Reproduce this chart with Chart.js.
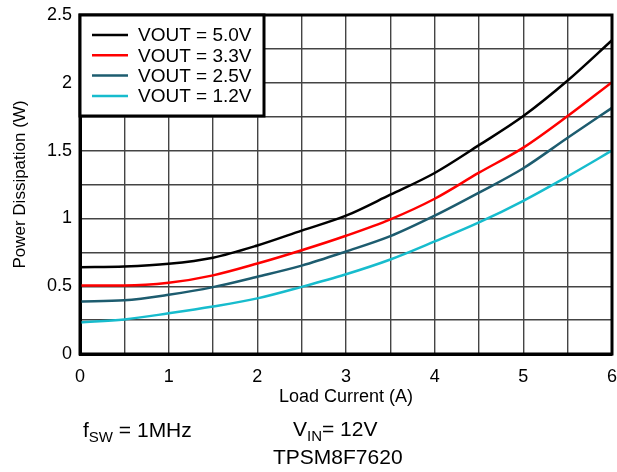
<!DOCTYPE html>
<html>
<head>
<meta charset="utf-8">
<script src="https://cdn.jsdelivr.net/npm/chart.js@4/dist/chart.umd.min.js"></script>
<style>
  html, body { margin: 0; padding: 0; background: #fff; }
  #wrap { position: relative; width: 617px; height: 472px; }
  #c { position: absolute; left: 0; top: 0; }
  .note {
    position: absolute;
    font-family: "Liberation Sans", Arial, sans-serif;
    font-size: 21px;
    line-height: 1;
    color: #000;
    white-space: nowrap;
  }
  .note sub { font-size: 15px; vertical-align: -5px; line-height: 0; }
</style>
</head>
<body>
<div id="wrap">
  <canvas id="c" width="617" height="472"></canvas>
  <div class="note" style="left:83px;top:419px">f<sub>SW</sub> = 1MHz</div>
  <div class="note" style="left:293px;top:418px">V<sub>IN</sub>= 12V</div>
  <div class="note" style="left:273px;top:446px">TPSM8F7620</div>
</div>
<script>
// Load current (A)
const loadCurrent = [0, 0.5, 1, 1.5, 2, 2.5, 3, 3.5, 4, 4.5, 5, 5.5, 6];

// Power dissipation (W) for each output voltage
const vout50 = [0.64, 0.645, 0.665, 0.71, 0.80, 0.91, 1.02, 1.175, 1.335, 1.54, 1.755, 2.017, 2.314];
const vout33 = [0.505, 0.505, 0.525, 0.58, 0.667, 0.765, 0.872, 0.993, 1.145, 1.337, 1.522, 1.755, 2.005];
const vout25 = [0.388, 0.396, 0.437, 0.493, 0.57, 0.652, 0.756, 0.869, 1.02, 1.19, 1.37, 1.595, 1.815];
const vout12 = [0.232, 0.255, 0.30, 0.35, 0.41, 0.495, 0.588, 0.697, 0.83, 0.97, 1.13, 1.31, 1.5];

const seriesLabels = ['VOUT = 5.0V', 'VOUT = 3.3V', 'VOUT = 2.5V', 'VOUT = 1.2V'];
const seriesValues = [vout50, vout33, vout25, vout12];
const seriesColors = ['#000000', '#ff0000', '#1d5c6f', '#17bccd'];

// Axis tick labels
const xTickLabels = ['0', '1', '2', '3', '4', '5', '6'];
const yTickLabels = ['0', '0.5', '1', '1.5', '2', '2.5'];

const FONT = '"Liberation Sans", Arial, sans-serif';

// Frame around the plot area plus the boxed legend in its top-left corner
const frameAndLegend = {
  id: 'frameAndLegend',
  afterDraw(chart) {
    const { ctx, chartArea: a } = chart;
    ctx.save();
    ctx.lineWidth = 3;
    ctx.strokeStyle = '#000';
    ctx.strokeRect(a.left, a.top, a.right - a.left, a.bottom - a.top);

    const x0 = a.left, y0 = a.top, w = 184, h = 101;
    ctx.fillStyle = '#fff';
    ctx.fillRect(x0, y0, w, h);
    ctx.strokeRect(x0, y0, w, h);

    ctx.font = '19px ' + FONT;
    ctx.textBaseline = 'middle';
    ctx.textAlign = 'left';
    chart.data.datasets.forEach((ds, i) => {
      const y = y0 + 20 + i * 20.3;
      ctx.strokeStyle = ds.borderColor;
      ctx.lineWidth = 2.5;
      ctx.beginPath();
      ctx.moveTo(x0 + 12, y);
      ctx.lineTo(x0 + 48, y);
      ctx.stroke();
      ctx.fillStyle = '#000';
      ctx.fillText(ds.label, x0 + 58, y + 1);
    });
    ctx.restore();
  }
};

new Chart(document.getElementById('c'), {
  type: 'line',
  data: {
    datasets: seriesLabels.map((label, i) => ({
      label,
      data: loadCurrent.map((x, j) => ({ x, y: seriesValues[i][j] })),
      borderColor: seriesColors[i],
      backgroundColor: seriesColors[i],
      borderWidth: 2.5,
      pointRadius: 0,
      cubicInterpolationMode: 'monotone',
      fill: false
    }))
  },
  options: {
    responsive: false,
    animation: false,
    layout: { padding: { left: 0, right: 5, top: 15, bottom: 64 } },
    plugins: { legend: { display: false }, tooltip: { enabled: false } },
    scales: {
      x: {
        type: 'linear',
        min: 0,
        max: 6,
        afterFit(scale) {
          scale.height = 54;
          scale.paddingLeft = 0;
          scale.paddingRight = 0;
        },
        border: { display: true, color: '#000', width: 3 },
        grid: { color: '#444', lineWidth: 1.4, drawTicks: false },
        ticks: {
          stepSize: 0.5,
          autoSkip: false,
          maxRotation: 0,
          padding: 12,
          color: '#000',
          font: { family: FONT, size: 18 },
          callback: (v) => Number.isInteger(v) ? xTickLabels[v] : ''
        },
        title: {
          display: true,
          text: 'Load Current (A)',
          color: '#000',
          font: { family: FONT, size: 18 },
          padding: { top: 0, bottom: 0 }
        }
      },
      y: {
        min: 0,
        max: 2.5,
        afterFit(scale) {
          scale.width = 80;
          scale.paddingTop = 0;
          scale.paddingBottom = 0;
        },
        border: { display: true, color: '#000', width: 3 },
        grid: { color: '#444', lineWidth: 1.4, drawTicks: false },
        ticks: {
          stepSize: 0.25,
          autoSkip: false,
          padding: 8,
          color: '#000',
          font: { family: FONT, size: 18 },
          callback: (v) => {
            const k = Math.round(v * 4);
            return k % 2 === 0 ? yTickLabels[k / 2] : '';
          }
        },
        title: {
          display: true,
          text: 'Power Dissipation (W)',
          color: '#000',
          font: { family: FONT, size: 17 },
          padding: { top: 10, bottom: 0 }
        }
      }
    }
  },
  plugins: [frameAndLegend]
});
</script>
</body>
</html>
